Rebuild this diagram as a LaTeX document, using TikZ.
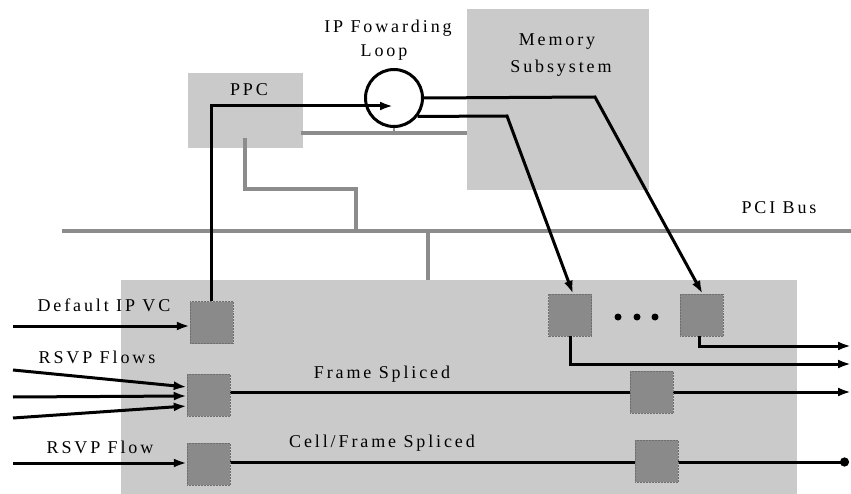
\documentclass[tikz,border=0pt]{standalone}
\usepackage{fontspec}
\setmainfont{Liberation Serif}[LetterSpace=16]
\usetikzlibrary{arrows.meta}
\pgfdeclarelayer{bg}
\pgfsetlayers{bg,main}
\definecolor{panel}{HTML}{CACACA}
\definecolor{blk}{HTML}{8A8A8A}
\definecolor{wire}{HTML}{8C8C8C}
\tikzset{
  panelbox/.style={fill=panel,draw=none},
  sq/.style={fill=blk,draw=blk!80!black,densely dotted,line width=0.5pt,minimum width=43pt,minimum height=42pt,inner sep=0pt},
  graywire/.style={draw=wire,line width=4.5pt},
  flow/.style={draw=black,line width=3pt,-{Latex[length=13pt,width=9pt]}},
  plainflow/.style={draw=black,line width=3pt},
  lbl/.style={font=\fontsize{18}{20}\selectfont,inner sep=0pt,align=center}
}
\begin{document}
\begin{tikzpicture}[x=1pt,y=-1pt]
\useasboundingbox (0,0) rectangle (851,494);
% panels
\begin{pgfonlayer}{bg}
\fill[panelbox] (121,280) rectangle (797,494);
\end{pgfonlayer}
\node[panelbox,minimum width=115pt,minimum height=75pt,inner sep=0pt] (ppc) at (245.5,110.5) {};
\node[panelbox,minimum width=182pt,minimum height=181pt,inner sep=0pt] (mem) at (558,99.5) {};
% gray wiring
\coordinate (busL) at (62,231);
\coordinate (busR) at (851,231);
\coordinate (tap) at (428,231);
\coordinate (ppcdown) at (245,138);
\coordinate (ppcbend) at (245,189);
\coordinate (ppcbend2) at (356,189);
\coordinate (ppcbus) at (356,231);
\coordinate (boxtop) at (428,280);
\coordinate (ppcR) at (301,133);
\coordinate (memL) at (467,133);
\draw[graywire] (busL) -- (busR);
\draw[graywire] (ppcdown) -- (ppcbend) -- (ppcbend2) -- (ppcbus);
\draw[graywire] (tap) -- (boxtop);
\draw[graywire] (ppcR) -- (memL);
% forwarding loop
\node[circle,draw=black,line width=3pt,fill=white,minimum size=57pt,inner sep=0pt] (loop) at (394,98) {};
\coordinate (looptick) at (394,133);
\draw[graywire,line width=2pt] (loop.south) -- (looptick);
% labels
\node[lbl] (lfwd) at (388,28) {IP Fowarding};
\node[lbl] (lloop) at (384,53) {Loop};
\node[lbl] (lppc) at (249,90) {PPC};
\node[lbl] (lmem) at (557,42) {Memory};
\node[lbl] (lsub) at (561,68) {Subsystem};
\node[lbl] (lpci) at (779,208) {PCI Bus};
\node[lbl] (ldef) at (104,305) {Default IP VC};
\node[lbl] (lrsvps) at (97,357) {RSVP Flows};
\node[lbl] (lrsvp) at (100,447) {RSVP Flow};
\node[lbl] (lframe) at (382,374) {Frame Spliced};
\node[lbl] (lcell) at (382,443) {Cell/Frame Spliced};
% blocks
\node[sq] (b1) at (211.5,322.5) {};
\node[sq] (b2) at (208.5,395) {};
\node[sq] (b3) at (208.5,464) {};
\node[sq] (b4) at (570,315) {};
\node[sq] (b5) at (701.5,315) {};
\node[sq] (b6) at (651.5,392) {};
\node[sq] (b7) at (656.5,461) {};
% coordinates for connectors
\coordinate (loopin) at (393,106);
\coordinate (up1) at (595,97);
\coordinate (up2) at (507,116);
\coordinate (in1) at (13,326);
\coordinate (in2a) at (13,370);
\coordinate (in2b) at (13,397);
\coordinate (in2c) at (13,418);
\coordinate (in3) at (13,463);
\coordinate (out1) at (851,364);
\coordinate (out2) at (851,346);
\coordinate (outf) at (851,392);
\coordinate (outc) at (849,462);
% connectors
\draw[flow] (b1.north) |- (loopin);
\draw[flow] (loop.east) -- (up1) -- ([xshift=1pt]b5.north);
\draw[flow] (loop.-38) -- (up2) -- ([xshift=3pt]b4.north);
\begin{pgfonlayer}{bg}
\draw[flow] (b2.east |- outf) -- (outf);
\draw[draw=black,line width=3pt,-{Circle[length=9pt,width=9pt]}] (b3.east |- outc) -- (outc);
\end{pgfonlayer}
\draw[flow] (b4.south) |- (out1);
\draw[flow] ([xshift=-2pt]b5.south) |- (out2);
\draw[flow] (in1) -- (b1.west |- in1);
\draw[flow] (in2a) -- ([yshift=8pt]b2.west);
\draw[flow] (in2b) -- ([yshift=-1pt]b2.west);
\draw[flow] (in2c) -- ([yshift=-11pt]b2.west);
\draw[flow] (in3) -- (b3.west |- in3);
% ellipsis dots
\fill (618,317) circle (3.5pt);
\fill (637,317) circle (3.5pt);
\fill (655,317) circle (3.5pt);
\end{tikzpicture}
\end{document}
